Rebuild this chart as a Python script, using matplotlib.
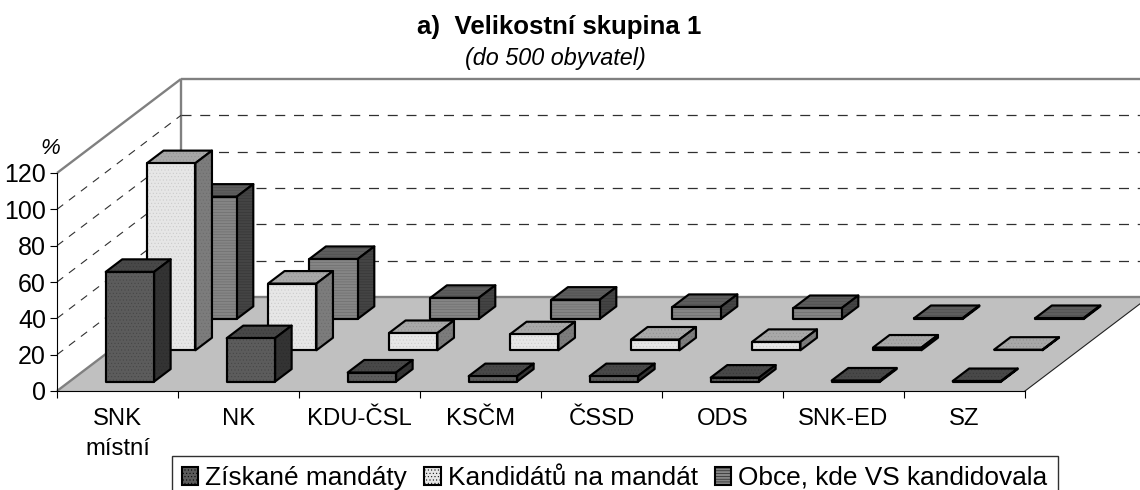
import matplotlib
matplotlib.use("Agg")
import matplotlib.pyplot as plt
from matplotlib.patches import Polygon, Patch

plt.rcParams['font.family'] = ['Liberation Sans', 'DejaVu Sans']
plt.rcParams['hatch.linewidth'] = 0.35

categories = ['SNK\nmístní', 'NK', 'KDU-ČSL', 'KSČM', 'ČSSD', 'ODS', 'SNK-ED', 'SZ']
series_names = ['Získané mandáty', 'Kandidátů na mandát', 'Obce, kde VS kandidovala']
ziskane = [60.4, 23.9, 5.0, 3.0, 3.0, 2.2, 0.6, 0.3]
kandidatu = [103.0, 36.7, 9.5, 8.8, 5.9, 4.6, 1.5, 0.3]
obce = [67.3, 33.0, 11.6, 10.6, 6.6, 6.0, 0.5, 0.5]
y_ticks = [0, 20, 40, 60, 80, 100, 120]

W, H = 1140, 490
PX_X, PX_Y = 121.0, 218.0 / 120
X0, Y0 = 57.0, 391.0
DEPTH_X = 124.0 / PX_X / 3      # one series of depth, in category units
DEPTH_Y = 94.0 / PX_Y / 3       # one series of depth, in value units
NS, NC = 3, len(categories)
YMAX = y_ticks[-1]

fig = plt.figure(figsize=(W / 100, H / 100), dpi=100, facecolor='white')
ax = fig.add_axes([0, 0, 1, 1])
ax.set_xlim(-X0 / PX_X, (W - X0) / PX_X)
ax.set_ylim((Y0 - H) / PX_Y, Y0 / PX_Y)
ax.patch.set_visible(False)


def P(c, s, v):
    """Oblique projection: category c, depth s, value v."""
    return (c + s * DEPTH_X, v + s * DEPTH_Y)


# floor
ax.add_patch(Polygon([P(0, 0, 0), P(NC, 0, 0), P(NC, NS, 0), P(0, NS, 0)],
                     fc='#c0c0c0', ec='none', zorder=1))
GREY = '#808080'
kw = dict(color=GREY, lw=1.7, zorder=2, solid_capstyle='butt')
ax.plot(*zip(P(0, 0, YMAX), P(0, NS, YMAX)), **kw)
ax.plot(*zip(P(0, NS, YMAX), P(0, NS, 0)), **kw)
ax.plot(*zip(P(0, NS, YMAX), P(NC, NS, YMAX)), **kw)
ax.plot(*zip(P(0, NS, 0), P(NC, NS, 0)), **kw)
ax.plot(*zip(P(0, 0, 0), P(0, NS, 0)), **kw)
ax.plot(*zip(P(NC, 0, 0), P(NC, NS, 0)), color='#202020', lw=0.8, zorder=2)

# gridlines on both walls
for v in y_ticks[1:-1]:
    ax.plot(*zip(P(0, 0, v), P(0, NS, v)), color='#303030', lw=0.8,
            dashes=(7, 6.5), zorder=2)
    ax.plot(*zip(P(0, NS, v), P(NC, NS, v)), color='#303030', lw=0.9,
            dashes=(8, 7), zorder=2)

styles = [
    dict(hatch='.....', front=('#5c5c5c', '#444444'), top=('#484848', '#383838'), side=('#333333', '#2a2a2a')),
    dict(hatch='.....', front=('#e6e6e6', '#c8c8c8'), top=('#a8a8a8', '#909090'), side=('#7c7c7c', '#6a6a6a')),
    dict(hatch='------', front=('#858585', '#666666'), top=('#5e5e5e', '#4a4a4a'), side=('#444444', '#333333')),
]
values = [ziskane, kandidatu, obce]
GAP = 0.3


def face(pts, colors, hatch, z):
    ax.add_patch(Polygon(pts, fc=colors[0], ec=colors[1], hatch=hatch, lw=0, zorder=z))
    ax.add_patch(Polygon(pts, fill=False, ec='black', lw=1.55, joinstyle='round', zorder=z + 0.01))


for s in reversed(range(NS)):
    st = styles[s]
    for c, v in enumerate(values[s]):
        z = 3 + (NS - s) * 100 + c
        x1, x2 = c + GAP, c + 1 - GAP
        d1, d2 = s + GAP, s + 1 - GAP
        face([P(x1, d1, v), P(x2, d1, v), P(x2, d2, v), P(x1, d2, v)], st['top'], st['hatch'], z)
        face([P(x2, d1, 0), P(x2, d2, 0), P(x2, d2, v), P(x2, d1, v)], st['side'], st['hatch'], z + 0.1)
        face([P(x1, d1, 0), P(x2, d1, 0), P(x2, d1, v), P(x1, d1, v)], st['front'], st['hatch'], z + 0.2)

# axes
for name in ('top', 'right'):
    ax.spines[name].set_visible(False)
ax.spines['left'].set_position(('data', 0))
ax.spines['bottom'].set_position(('data', 0))
ax.spines['left'].set_bounds(0, YMAX)
ax.spines['bottom'].set_bounds(0, NC)
for sp in ('left', 'bottom'):
    ax.spines[sp].set_linewidth(0.8)
    ax.spines[sp].set_zorder(1000)
ax.set_yticks(y_ticks)
ax.set_xticks(range(NC + 1))
ax.set_xticklabels([])
ax.set_xticks([i + 0.5 for i in range(NC)], minor=True)
ax.set_xticklabels(categories, minor=True, fontsize=17.2, linespacing=1.5, va='top')
ax.tick_params(axis='x', which='minor', length=0, pad=12)
ax.tick_params(axis='x', which='major', length=5, width=0.8)
ax.tick_params(axis='y', length=5, width=0.8, labelsize=18, pad=3)

fig.text(559 / W, 1 - 27 / H, 'a)  Velikostní skupina 1', ha='center', va='center',
         fontsize=18.6, fontweight='bold')
fig.text(555 / W, 1 - 58 / H, '(do 500 obyvatel)', ha='center', va='center',
         fontsize=16.8, fontstyle='italic')
fig.text(50 / W, 1 - 148 / H, '%', ha='center', va='center', fontsize=16, fontstyle='italic')

handles = [Patch(fc=st['front'][0], ec='black', lw=1.5, hatch=st['hatch']) for st in styles]
leg = fig.legend(handles, series_names, ncol=3, loc='upper left',
                 bbox_to_anchor=(172 / W, 1 - 456 / H), borderaxespad=0, fontsize=18.9,
                 frameon=True, fancybox=False, edgecolor='#303030', framealpha=1,
                 handlelength=0.62, handleheight=0.65, handletextpad=0.27,
                 columnspacing=0.66, borderpad=0.38)
leg.get_frame().set_linewidth(1.0)

fig.savefig('out.png', dpi=100, facecolor='white')
